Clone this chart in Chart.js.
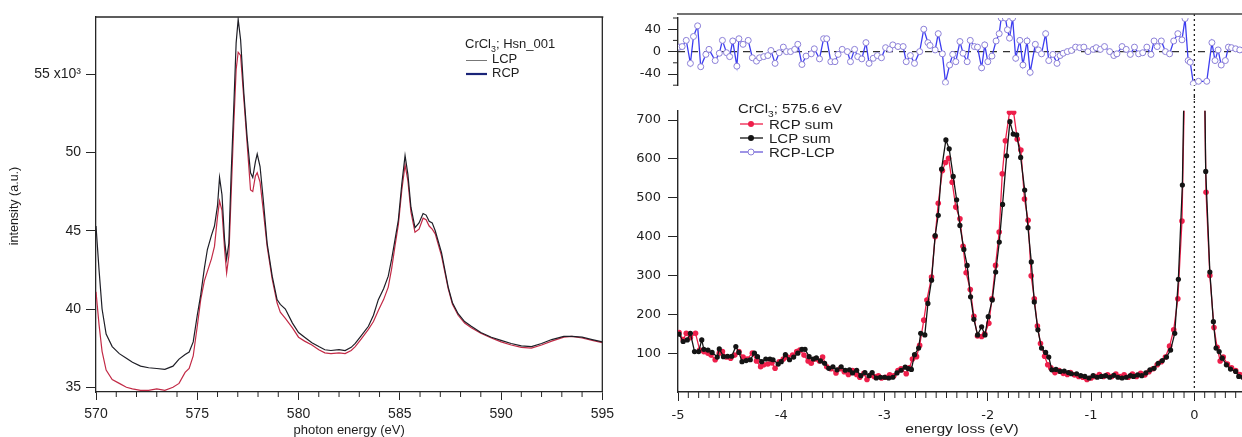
<!DOCTYPE html>
<html lang="en">
<head>
  <meta charset="UTF-8">
  <title>CrCl3 XAS and RIXS</title>
  <script src="https://cdn.jsdelivr.net/npm/chart.js"></script>
  <style>
    html, body { margin: 0; padding: 0; background: #fff; overflow: hidden; }
    #page { position: relative; width: 1242px; height: 437px; overflow: hidden; }
    #page canvas { position: absolute; }
  </style>
</head>
<body>
  <div id="page">
    <canvas id="xasChart" width="620" height="437" style="left:0;top:0"></canvas>
    <canvas id="diffChart" width="646" height="100" style="left:600px;top:0"></canvas>
    <canvas id="rixsChart" width="646" height="341" style="left:600px;top:96px"></canvas>
  </div>

  <script>
    // ---- left panel: XAS, photon energy (eV) vs intensity (x10^3)
    const xasEnergy = [
      570.0, 570.15, 570.3, 570.5, 570.8, 571.15, 571.5, 571.8, 572.2, 572.6,
      573.0, 573.4, 573.8, 574.1, 574.4, 574.6, 574.8, 575.0, 575.17, 575.35,
      575.5, 575.7, 575.85, 576.0, 576.1, 576.22, 576.35, 576.45, 576.56, 576.67,
      576.8, 576.92, 577.02, 577.14, 577.3, 577.46, 577.63, 577.74, 577.87, 577.96,
      578.1, 578.25, 578.45, 578.7, 578.94, 579.1, 579.35, 579.7, 580.0, 580.3,
      580.66, 581.0, 581.3, 581.6, 582.0, 582.3, 582.6, 582.8, 583.1, 583.45,
      583.7, 583.94, 584.2, 584.43, 584.6, 584.76, 584.93, 585.1, 585.26, 585.4,
      585.55, 585.75, 585.95, 586.15, 586.3, 586.45, 586.6, 586.75, 587.06, 587.39,
      587.6, 587.88, 588.2, 588.53, 589.0, 589.52, 590.0, 590.5, 591.0, 591.5,
      592.0, 592.5, 593.1, 593.5, 594.0, 594.5, 595.0
    ];
    const xasLCP = [
      45.3, 42.5, 40.0, 38.4, 37.6, 37.15, 36.85, 36.6, 36.35, 36.25,
      36.2, 36.15, 36.35, 36.8, 37.1, 37.25, 37.9, 39.6, 40.9, 42.6,
      43.8, 44.7, 45.3, 46.6, 48.4, 47.3, 44.4, 43.2, 44.2, 48.5,
      52.8, 57.0, 58.5, 57.2, 53.8, 51.0, 48.7, 48.4, 49.4, 49.9,
      49.1, 47.1, 44.2, 42.1, 40.6, 40.3, 40.0, 39.1, 38.5, 38.2,
      37.85, 37.6, 37.4, 37.35, 37.4, 37.35, 37.55, 37.8, 38.3, 38.9,
      39.6, 40.6, 41.3, 42.1, 43.2, 44.4, 45.7, 48.0, 49.8, 48.6,
      46.5, 45.2, 45.5, 46.1, 46.0, 45.6, 45.5, 45.0, 43.6, 41.4,
      40.4, 39.7, 39.2, 38.9, 38.5, 38.2, 38.0, 37.8, 37.65, 37.6,
      37.8, 38.05, 38.25, 38.25, 38.2, 38.05, 37.9
    ];
    const xasRCP = [
      41.1, 39.0, 37.3, 36.1, 35.5, 35.25, 35.0, 34.9, 34.8, 34.8,
      34.9, 34.8, 35.0, 35.25, 35.95, 36.2, 37.0, 38.9, 40.6, 41.8,
      42.4, 43.2, 44.0, 45.9, 46.9, 46.3, 43.8, 42.3, 43.4, 47.2,
      51.7, 55.3, 56.4, 56.2, 53.4, 50.6, 47.6, 47.5, 48.5, 48.7,
      48.1, 46.4, 44.0, 41.9, 40.4, 39.8, 39.4, 38.8, 38.2, 37.95,
      37.7, 37.4, 37.2, 37.15, 37.2, 37.15, 37.35, 37.6, 38.1, 38.7,
      39.2, 39.9, 40.6, 41.4, 42.6, 44.0, 45.4, 47.6, 49.2, 48.2,
      46.2, 44.9, 45.1, 45.8, 45.7, 45.3, 45.1, 44.8, 43.4, 41.3,
      40.3, 39.6, 39.1, 38.8, 38.45, 38.15, 37.9, 37.7, 37.55, 37.5,
      37.7, 37.95, 38.2, 38.25, 38.15, 38.0, 37.85
    ];
    const xasXTicks = [570, 575, 580, 585, 590, 595];
    const xasYTicks = [35, 40, 45, 50, 55];

    // ---- right panel: RIXS at 575.6 eV, energy loss (eV) vs counts
    const lcpEnergy = [
      -4.99, -4.95, -4.91, -4.88, -4.84, -4.80, -4.77, -4.75, -4.71, -4.67,
      -4.62, -4.60, -4.56, -4.52, -4.48, -4.44, -4.41, -4.38, -4.34, -4.30,
      -4.26, -4.23, -4.19, -4.15, -4.11, -4.08, -4.03, -4.00, -3.96, -3.92,
      -3.88, -3.84, -3.80, -3.77, -3.73, -3.69, -3.66, -3.62, -3.58, -3.54,
      -3.50, -3.46, -3.42, -3.38, -3.34, -3.31, -3.27, -3.23, -3.19, -3.15,
      -3.12, -3.08, -3.04, -3.00, -2.96, -2.92, -2.88, -2.84, -2.80, -2.77,
      -2.74, -2.71, -2.67, -2.65, -2.61, -2.58, -2.545, -2.51, -2.48, -2.448,
      -2.406, -2.374, -2.335, -2.302, -2.27, -2.232, -2.20, -2.167, -2.135, -2.099,
      -2.06, -2.028, -1.996, -1.957, -1.924, -1.889, -1.857, -1.818, -1.786, -1.754,
      -1.72, -1.682, -1.643, -1.611, -1.579, -1.55, -1.515, -1.48, -1.44, -1.41,
      -1.38, -1.34, -1.30, -1.26, -1.22, -1.19, -1.14, -1.10, -1.06, -1.02,
      -0.98, -0.94, -0.90, -0.86, -0.82, -0.78, -0.74, -0.70, -0.66, -0.62,
      -0.59, -0.55, -0.51, -0.47, -0.43, -0.39, -0.35, -0.31, -0.27, -0.23,
      -0.19, -0.155, -0.116, -0.077, -0.039, 0.0, 0.039, 0.072, 0.11, 0.15,
      0.184, 0.21, 0.24, 0.27, 0.31, 0.35, 0.40, 0.43, 0.47
    ];
    const lcpCounts = [
      149, 130, 134, 151, 104, 104, 134, 110, 108, 102,
      90, 111, 91, 92, 92, 117, 102, 78, 81, 83,
      100, 91, 78, 85, 85, 83, 72, 78, 96, 83,
      90, 100, 110, 110, 91, 85, 88, 80, 74, 61,
      65, 57, 65, 56, 57, 49, 56, 42, 50, 42,
      50, 36, 38, 38, 36, 38, 49, 56, 64, 60,
      58, 96, 113, 151, 147, 228, 288, 403, 455, 574,
      649, 626, 555, 495, 429, 367, 326, 245, 187, 147,
      168, 147, 194, 237, 309, 386, 483, 608, 696, 664,
      662, 604, 520, 423, 335, 232, 160, 113, 102, 90,
      57, 58, 53, 54, 50, 47, 47, 42, 40, 36,
      42, 38, 40, 42, 38, 43, 38, 36, 38, 42,
      40, 44, 42, 49, 57, 61, 74, 81, 90, 108,
      151, 290, 533, 1150, 3000, 5000, 3000, 1440, 568, 309,
      181, 113, 104, 87, 70, 59, 53, 40, 38
    ];
    const rcpEnergy = [
      -4.99, -4.95, -4.92, -4.88, -4.83, -4.79, -4.75, -4.71, -4.68, -4.64,
      -4.60, -4.57, -4.53, -4.49, -4.45, -4.41, -4.37, -4.33, -4.28, -4.24,
      -4.20, -4.17, -4.13, -4.09, -4.06, -4.02, -3.98, -3.94, -3.89, -3.85,
      -3.82, -3.78, -3.74, -3.71, -3.67, -3.63, -3.60, -3.56, -3.52, -3.47,
      -3.43, -3.39, -3.35, -3.31, -3.27, -3.24, -3.20, -3.17, -3.13, -3.10,
      -3.06, -3.03, -2.99, -2.95, -2.91, -2.87, -2.84, -2.79, -2.76, -2.73,
      -2.69, -2.66, -2.62, -2.59, -2.545, -2.51, -2.48, -2.44, -2.41, -2.38,
      -2.345, -2.31, -2.27, -2.24, -2.21, -2.17, -2.135, -2.10, -2.06, -2.03,
      -1.99, -1.96, -1.925, -1.89, -1.86, -1.83, -1.79, -1.75, -1.715, -1.68,
      -1.645, -1.61, -1.58, -1.55, -1.52, -1.49, -1.45, -1.42, -1.39, -1.35,
      -1.31, -1.27, -1.23, -1.20, -1.16, -1.12, -1.08, -1.04, -1.00, -0.96,
      -0.92, -0.88, -0.84, -0.80, -0.76, -0.72, -0.68, -0.64, -0.60, -0.56,
      -0.52, -0.48, -0.44, -0.40, -0.36, -0.32, -0.28, -0.24, -0.20, -0.16,
      -0.12, -0.08, -0.04, 0.0, 0.04, 0.075, 0.113, 0.15, 0.19, 0.22,
      0.25, 0.28, 0.32, 0.36, 0.40, 0.44, 0.47
    ];
    const rcpCounts = [
      153, 135, 151, 140, 151, 108, 104, 100, 95, 83,
      100, 104, 90, 87, 95, 104, 90, 85, 100, 80,
      65, 70, 72, 75, 61, 78, 85, 90, 95, 104,
      108, 95, 80, 74, 85, 80, 90, 65, 60, 49,
      60, 52, 45, 55, 45, 38, 48, 32, 44, 40,
      42, 36, 38, 44, 42, 55, 60, 47, 62, 85,
      91, 120, 185, 237, 296, 400, 486, 570, 591, 602,
      540, 476, 446, 375, 307, 264, 195, 144, 143, 150,
      177, 240, 326, 412, 562, 647, 720, 720, 651, 623,
      497, 442, 299, 240, 170, 125, 92, 70, 62, 50,
      55, 48, 45, 50, 44, 40, 38, 32, 36, 40,
      45, 40, 44, 40, 46, 40, 44, 38, 46, 40,
      48, 44, 52, 60, 70, 78, 90, 118, 160, 240,
      440, 1000, 3000, 5000, 3000, 1200, 514, 300, 166, 115,
      80, 90, 72, 62, 55, 45, 40
    ];
    const diffEnergy = [
      -4.99, -4.96, -4.92, -4.88, -4.85, -4.81, -4.78, -4.73, -4.70, -4.64,
      -4.60, -4.57, -4.53, -4.50, -4.47, -4.43, -4.41, -4.37, -4.32, -4.28,
      -4.24, -4.21, -4.17, -4.13, -4.10, -4.06, -4.02, -3.98, -3.95, -3.91,
      -3.87, -3.84, -3.80, -3.76, -3.71, -3.68, -3.63, -3.59, -3.56, -3.52,
      -3.48, -3.45, -3.41, -3.36, -3.33, -3.29, -3.26, -3.22, -3.18, -3.15,
      -3.11, -3.07, -3.03, -2.99, -2.95, -2.92, -2.87, -2.82, -2.79, -2.75,
      -2.71, -2.66, -2.62, -2.58, -2.56, -2.51, -2.48, -2.44, -2.41, -2.37,
      -2.34, -2.31, -2.27, -2.24, -2.20, -2.17, -2.13, -2.10, -2.06, -2.03,
      -2.00, -1.96, -1.92, -1.89, -1.87, -1.83, -1.81, -1.79, -1.76, -1.73,
      -1.69, -1.66, -1.62, -1.59, -1.54, -1.51, -1.48, -1.44, -1.41, -1.37,
      -1.33, -1.30, -1.27, -1.23, -1.19, -1.15, -1.11, -1.07, -1.03, -0.98,
      -0.95, -0.91, -0.87, -0.82, -0.78, -0.75, -0.70, -0.66, -0.62, -0.58,
      -0.54, -0.50, -0.46, -0.42, -0.39, -0.36, -0.32, -0.28, -0.24, -0.20,
      -0.16, -0.12, -0.09, -0.06, -0.04, -0.01, 0.04, 0.12, 0.17, 0.20,
      0.23, 0.26, 0.30, 0.33, 0.36, 0.40, 0.44
    ];
    const diffValues = [
      8, 9, 20, -21, 27, 46, -27, -5, 4, -16,
      -3, 20, -2, -9, 19, -26, 23, 13, 20, -11,
      -17, -11, -9, -7, 2, -21, -2, 8, 0, 0,
      4, 13, -23, -8, -4, 5, -13, 23, 23, -18,
      -18, -5, 4, 0, -18, 4, -9, -13, 16, -21,
      -12, -7, -11, 7, 4, 12, 9, 9, -18, -7,
      -21, 0, 40, 16, 11, 3, 32, -4, -55, -24,
      -5, -18, 18, -3, -18, 20, 9, 8, -29, 12,
      -18, -8, 19, 32, 60, 60, 39, 24, 60, -12,
      20, -24, 19, -37, 13, 3, -4, 32, -16, -5,
      -21, -7, -3, 0, 2, 8, 7, 8, 0, 4,
      7, 4, 9, 0, -7, -4, 9, 4, -5, 8,
      -4, -2, 8, -5, 19, 9, 19, 0, -4, 19,
      32, 21, 59, -16, -19, -57, -53, -53, 16, -16,
      3, -24, -16, 8, 7, 5, 3
    ];
    const rixsXTicks = [-5, -4, -3, -2, -1, 0];
    const rixsYTicks = [100, 200, 300, 400, 500, 600, 700];
    const diffYTicks = [-40, 0, 40];

    const AXIS = '#262626';
    const FONT = "'Liberation Sans', Arial, Helvetica, sans-serif";
    const RIGHT_TICK_FONT = "'DejaVu Sans', 'Liberation Sans', sans-serif";

    const pairs = (xs, ys) => xs.map((x, i) => ({ x, y: ys[i] }));
    const setTicks = list => scale => { scale.ticks = list.map(v => ({ value: v })); };

    function line(ctx, x1, y1, x2, y2, color, width, dash) {
      ctx.save();
      ctx.strokeStyle = color;
      ctx.lineWidth = width;
      ctx.setLineDash(dash || []);
      ctx.beginPath();
      ctx.moveTo(x1, y1);
      ctx.lineTo(x2, y2);
      ctx.stroke();
      ctx.restore();
    }

    // text with an optional horizontal stretch, returns drawn width
    function text(ctx, str, x, y, size, opt) {
      opt = opt || {};
      const sx = opt.sx || 1;
      ctx.save();
      ctx.font = size + 'px ' + FONT;
      ctx.fillStyle = opt.color || '#1e1e1e';
      ctx.textAlign = opt.align || 'left';
      ctx.textBaseline = opt.baseline || 'alphabetic';
      ctx.translate(x, y);
      if (opt.rotate) ctx.rotate(opt.rotate);
      ctx.scale(sx, 1);
      ctx.fillText(str, 0, 0);
      const w = ctx.measureText(str).width * sx;
      ctx.restore();
      return w;
    }

    // "CrCl3; ..." with the 3 as subscript
    function formula(ctx, rest, x, y, size, sx) {
      let cx = x;
      cx += text(ctx, 'CrCl', cx, y, size, { sx });
      cx += text(ctx, '3', cx, y + size * 0.3, size * 0.68, { sx });
      text(ctx, rest, cx, y, size, { sx });
    }

    function minorTicks(chart, axisId, values, len) {
      const s = chart.scales[axisId];
      values.forEach(v => {
        const p = s.getPixelForValue(v);
        if (s.isHorizontal()) line(chart.ctx, p, s.top, p, s.top + len, AXIS, 1);
        else line(chart.ctx, s.right - len, p, s.right, p, AXIS, 1);
      });
    }

    function dot(ctx, x, y, r, fill, stroke) {
      ctx.save();
      ctx.beginPath();
      ctx.arc(x, y, r, 0, Math.PI * 2);
      ctx.fillStyle = fill;
      ctx.fill();
      if (stroke) { ctx.strokeStyle = stroke; ctx.lineWidth = 1; ctx.stroke(); }
      ctx.restore();
    }

    const xasDecor = {
      id: 'xasDecor',
      afterDraw(chart) {
        const { ctx, chartArea: a } = chart;
        line(ctx, a.left - 1, a.top, a.right + 1, a.top, AXIS, 1.3);
        line(ctx, a.right, a.top, a.right, a.bottom, AXIS, 1.3);
        const minor = [];
        for (let e = 571; e < 595; e++) if (e % 5) minor.push(e);
        minorTicks(chart, 'x', minor, 5);
        text(ctx, 'photon energy (eV)', (a.left + a.right) / 2, 434, 13, { align: 'center' });
        text(ctx, 'intensity (a.u.)', 15, 206, 12.5, { align: 'center', baseline: 'middle', rotate: -Math.PI / 2 });
        formula(ctx, '; Hsn_001', 465, 48, 13, 1);
        line(ctx, 466, 60.5, 487, 60.5, '#777', 1);
        text(ctx, 'LCP', 492, 63, 13);
        line(ctx, 466, 74, 487, 74, '#1a2478', 2.2);
        text(ctx, 'RCP', 492, 77, 13);
      }
    };

    const diffDecor = {
      id: 'diffDecor',
      beforeDatasetsDraw(chart) {
        const { ctx, chartArea: a, scales } = chart;
        const y0 = scales.y.getPixelForValue(0);
        line(ctx, a.left, y0, a.right, y0, '#333', 1.2, [7, 6]);
        const x0 = scales.x.getPixelForValue(0);
        line(ctx, x0, a.top - 4, x0, chart.height, '#222', 1.3, [2, 3]);
      },
      afterDraw(chart) {
        const { ctx, chartArea: a } = chart;
        line(ctx, a.left - 1, a.top - 4, chart.width, a.top - 4, '#444', 1.4);
        minorTicks(chart, 'y', [-60, -20, 20, 60], 5);
      }
    };

    const rixsDecor = {
      id: 'rixsDecor',
      beforeDatasetsDraw(chart) {
        const { ctx, chartArea: a, scales } = chart;
        const x0 = scales.x.getPixelForValue(0);
        line(ctx, x0, 0, x0, a.bottom, '#222', 1.3, [2, 3]);
      },
      afterDraw(chart) {
        const { ctx, chartArea: a } = chart;
        const minor = [];
        for (let k = -49; k <= 4; k++) if (k % 10) minor.push(k / 10);
        minorTicks(chart, 'x', minor, 6);
        text(ctx, 'energy loss (eV)', (a.left + a.right) / 2, chart.height - 4, 13, { align: 'center', sx: 1.2 });

        const lx = a.left + 60;
        formula(ctx, '; 575.6 eV', lx, 17, 12.5, 1.2);
        const items = [
          { label: 'RCP sum', color: '#ee1f4b', fill: '#ee1f4b', stroke: null, y: 28 },
          { label: 'LCP sum', color: '#141414', fill: '#141414', stroke: null, y: 42 },
          { label: 'RCP-LCP', color: '#6a5ad8', fill: '#fff', stroke: '#8c80d8', y: 56 }
        ];
        items.forEach(it => {
          line(ctx, lx + 2, it.y, lx + 25, it.y, it.color, 1.3);
          dot(ctx, lx + 13, it.y, 3, it.fill, it.stroke);
          text(ctx, it.label, lx + 31, it.y + 5, 12.5, { sx: 1.2 });
        });
      }
    };

    const common = {
      responsive: false,
      animation: false,
      events: [],
      plugins: { legend: { display: false }, tooltip: { enabled: false } }
    };

    new Chart(document.getElementById('xasChart'), {
      type: 'line',
      data: {
        datasets: [
          { label: 'LCP', data: pairs(xasEnergy, xasLCP), borderColor: '#1e1e26', borderWidth: 1.2, pointRadius: 0 },
          { label: 'RCP', data: pairs(xasEnergy, xasRCP), borderColor: '#c22a46', borderWidth: 1.2, pointRadius: 0 }
        ]
      },
      options: {
        ...common,
        layout: { autoPadding: false, padding: { top: 17, right: 16, left: 0, bottom: 0 } },
        scales: {
          x: {
            type: 'linear', min: 570, max: 595,
            afterBuildTicks: setTicks(xasXTicks),
            afterFit: s => { s.height = 45; },
            grid: { drawOnChartArea: false, tickLength: 8, color: AXIS },
            border: { color: AXIS, width: 1.3 },
            ticks: { padding: 6, color: '#1e1e1e', font: { family: FONT, size: 14 }, maxRotation: 0, autoSkip: false, callback: v => String(v) }
          },
          y: {
            min: 34.7, max: 58.65,
            afterBuildTicks: setTicks(xasYTicks),
            afterFit: s => { s.width = 96; },
            grid: { drawOnChartArea: false, tickLength: 10, color: AXIS },
            border: { color: AXIS, width: 1.3 },
            ticks: { padding: 5, color: '#1e1e1e', font: { family: FONT, size: 14 }, callback: v => v === 55 ? '55 x10\u00B3' : String(v) }
          }
        }
      },
      plugins: [xasDecor]
    });

    new Chart(document.getElementById('diffChart'), {
      type: 'line',
      data: {
        datasets: [{
          label: 'RCP-LCP', data: pairs(diffEnergy, diffValues),
          borderColor: '#3d3df0', borderWidth: 1.3,
          pointRadius: 3, pointBackgroundColor: '#fff', pointBorderColor: '#8c80d8', pointBorderWidth: 1
        }]
      },
      options: {
        ...common,
        layout: { autoPadding: false, padding: { top: 18, right: 0, left: 0, bottom: 8 } },
        scales: {
          x: { type: 'linear', min: -5, max: 0.5, display: false },
          y: {
            min: -60, max: 60,
            afterBuildTicks: setTicks(diffYTicks),
            afterFit: s => { s.width = 78; },
            grid: { drawOnChartArea: false, tickLength: 10, color: AXIS },
            border: { color: AXIS, width: 1.4 },
            ticks: { padding: 7, color: '#1e1e1e', font: { family: RIGHT_TICK_FONT, size: 13 }, callback: v => String(v) }
          }
        }
      },
      plugins: [diffDecor]
    });

    new Chart(document.getElementById('rixsChart'), {
      type: 'line',
      data: {
        datasets: [
          { label: 'LCP sum', data: pairs(lcpEnergy, lcpCounts), borderColor: '#141414', borderWidth: 1.3,
            pointRadius: 2.6, pointBorderWidth: 0, pointBackgroundColor: '#141414' },
          { label: 'RCP sum', data: pairs(rcpEnergy, rcpCounts), borderColor: '#ee1f4b', borderWidth: 1.3,
            pointRadius: 2.8, pointBorderWidth: 0, pointBackgroundColor: '#ee1f4b' }
        ]
      },
      options: {
        ...common,
        layout: { autoPadding: false, padding: { top: 14, right: 0, left: 0, bottom: 0 } },
        scales: {
          x: {
            type: 'linear', min: -5, max: 0.5,
            afterBuildTicks: setTicks(rixsXTicks),
            afterFit: s => { s.height = 45; },
            grid: { drawOnChartArea: false, tickLength: 9, color: AXIS },
            border: { color: AXIS, width: 1.4 },
            ticks: { padding: 7, color: '#1e1e1e', font: { family: RIGHT_TICK_FONT, size: 13 }, maxRotation: 0, autoSkip: false, callback: v => String(v) }
          },
          y: {
            min: 0, max: 724,
            afterBuildTicks: setTicks(rixsYTicks),
            afterFit: s => { s.width = 78; },
            grid: { drawOnChartArea: false, tickLength: 10, color: AXIS },
            border: { color: AXIS, width: 1.4 },
            ticks: { padding: 7, color: '#1e1e1e', font: { family: RIGHT_TICK_FONT, size: 13 }, callback: v => String(v) }
          }
        }
      },
      plugins: [rixsDecor]
    });
  </script>
</body>
</html>
